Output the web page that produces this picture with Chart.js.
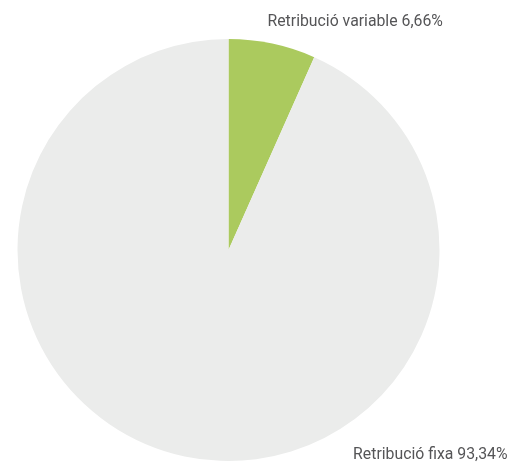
<!DOCTYPE html>
<html>
<head>
<meta charset="utf-8">
<script src="https://cdn.jsdelivr.net/npm/chart.js@4"></script>
<style>
  html, body { margin: 0; padding: 0; background: #fff; }
  #wrap { width: 509px; height: 462px; }
</style>
</head>
<body>
<div id="wrap"><canvas id="pie"></canvas></div>
<script>
// ── Data ──────────────────────────────────────────────────────────────────────
const labels = ["Retribució variable", "Retribució fixa"];
const values = [6.66, 93.34];
const colors = ["#abca5e", "#ebeceb"];

const fmt = v => v.toFixed(2).replace(".", ",") + "%";

// ── Slice labels ──────────────────────────────────────────────────────────────
const sliceLabels = {
    id: "sliceLabels",
    afterDraw(chart) {
        const arc = chart.getDatasetMeta(0).data[0];
        if (!arc) return;
        const { x, y, outerRadius: r } = arc;
        const ctx = chart.ctx;
        ctx.save();
        ctx.font = "15.8px Roboto";
        ctx.fillStyle = "#555557";
        ctx.textBaseline = "middle";
        ctx.textAlign = "left";
        ctx.fillText(labels[0] + " " + fmt(values[0]), x + 39, y - r - 17);
        ctx.textAlign = "right";
        ctx.fillText(labels[1] + " " + fmt(values[1]), x + r + 68, y + r - 6);
        ctx.restore();
    }
};

new Chart(document.getElementById("pie"), {
    type: "pie",
    data: {
        labels,
        datasets: [{
            data: values,
            backgroundColor: colors,
            borderWidth: 0,
        }],
    },
    options: {
        responsive: true,
        maintainAspectRatio: false,
        animation: false,
        layout: { padding: { left: 17, right: 69, top: 39, bottom: 1 } },
        plugins: {
            legend: { display: false },
            tooltip: { enabled: false },
        },
    },
    plugins: [sliceLabels],
});
</script>
</body>
</html>
